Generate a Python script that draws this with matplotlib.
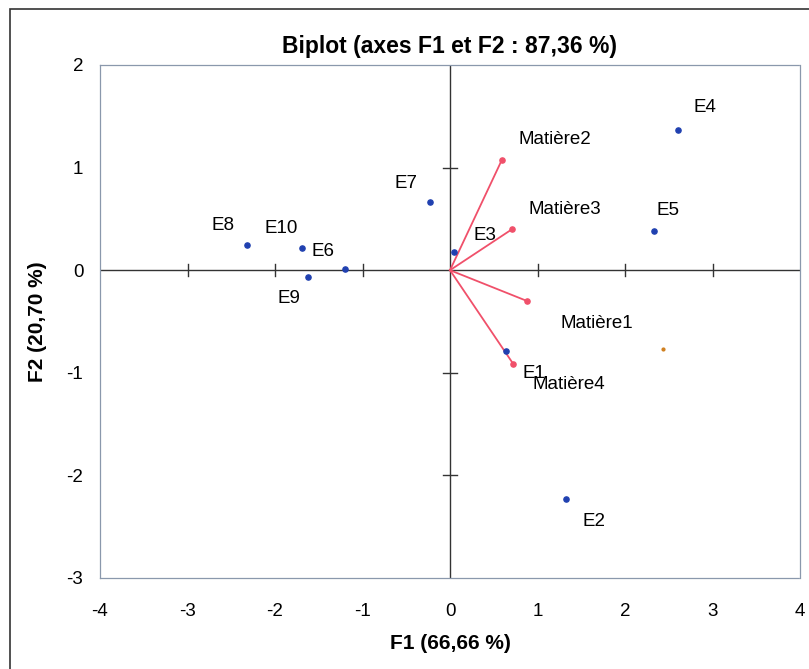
import matplotlib.pyplot as plt
from matplotlib.patches import Rectangle

plt.rcParams["font.family"] = ["Liberation Sans", "DejaVu Sans"]
plt.rcParams["axes.unicode_minus"] = False

# observations
obs_names = ["E1", "E2", "E3", "E4", "E5", "E6", "E7", "E8", "E9", "E10"]
obs_f1 = [0.64, 1.33, 0.05, 2.60, 2.33, -1.20, -0.23, -2.32, -1.62, -1.69]
obs_f2 = [-0.79, -2.23, 0.18, 1.37, 0.38, 0.01, 0.66, 0.25, -0.07, 0.22]

# variables
var_names = ["Matière1", "Matière2", "Matière3", "Matière4"]
var_f1 = [0.88, 0.59, 0.71, 0.72]
var_f2 = [-0.30, 1.07, 0.40, -0.91]

# stray speck in the scan
speck_f1 = [2.43]
speck_f2 = [-0.77]

x_ticks = [-4, -3, -2, -1, 0, 1, 2, 3, 4]
y_ticks = [-3, -2, -1, 0, 1, 2]

# label offsets in points
obs_off = {"E1": (20, -16), "E2": (20, -16), "E3": (22, 12), "E4": (20, 16),
           "E5": (10, 15), "E6": (-16, 13), "E7": (-17, 14), "E8": (-17, 14),
           "E9": (-14, -15), "E10": (-15, 14)}
var_off = {"Matière1": (50, -16), "Matière2": (38, 15), "Matière3": (38, 14),
           "Matière4": (40, -15)}

fig = plt.figure(figsize=(8.09, 6.69), dpi=100)
fig.patches.append(Rectangle((10 / 809, -0.1), 1.2, 1 - 9 / 669 + 0.1,
                             transform=fig.transFigure, fill=False,
                             edgecolor="#333333", linewidth=1.2))
ax = fig.add_axes([100 / 809, 91 / 669, 700 / 809, 513 / 669])

ax.set_xlim(-4, 4)
ax.set_ylim(-3, 2)
for s in ax.spines.values():
    s.set_linestyle((0, (1, 1)))
    s.set_color("#8a98ac")
    s.set_linewidth(0.9)

ax.axhline(0, color="#333333", lw=1.0, zorder=1)
ax.axvline(0, color="#333333", lw=1.0, zorder=1)
# tick marks on the zero axes
for t in x_ticks[1:-1]:
    if t != 0:
        ax.plot([t, t], [-0.06, 0.06], color="#333333", lw=1.0, zorder=1)
for t in y_ticks[1:-1]:
    if t != 0:
        ax.plot([-0.075, 0.075], [t, t], color="#333333", lw=1.0, zorder=1)

ax.set_xticks(x_ticks)
ax.set_yticks(y_ticks)
ax.tick_params(length=0, labelsize=13.5)
ax.tick_params(axis="x", pad=18)
ax.tick_params(axis="y", pad=12)

lab_font = ["Liberation Sans", "DejaVu Sans"]
for n, x, y in zip(var_names, var_f1, var_f2):
    ax.plot([0, x], [0, y], color="#f0506a", lw=1.3, zorder=2)
    ax.annotate(n, (x, y), xytext=var_off[n], textcoords="offset points",
                ha="center", va="center", fontsize=13.5, family=lab_font)
ax.scatter(var_f1, var_f2, s=14, color="#f0506a", zorder=3)

ax.scatter(obs_f1, obs_f2, s=14, color="#2040b0", zorder=4)
for n, x, y in zip(obs_names, obs_f1, obs_f2):
    ax.annotate(n, (x, y), xytext=obs_off[n], textcoords="offset points",
                ha="center", va="center", fontsize=13.5, family=lab_font)

ax.scatter(speck_f1, speck_f2, s=4, color="#d08020", zorder=3)

ax.set_title("Biplot (axes F1 et F2 : 87,36 %)", fontsize=16.5, fontweight="bold", pad=9)
ax.set_xlabel("F1 (66,66 %)", fontsize=15, fontweight="bold", labelpad=10)
ax.set_ylabel("F2 (20,70 %)", fontsize=15, fontweight="bold", labelpad=14)

fig.savefig("out.png", dpi=100)
